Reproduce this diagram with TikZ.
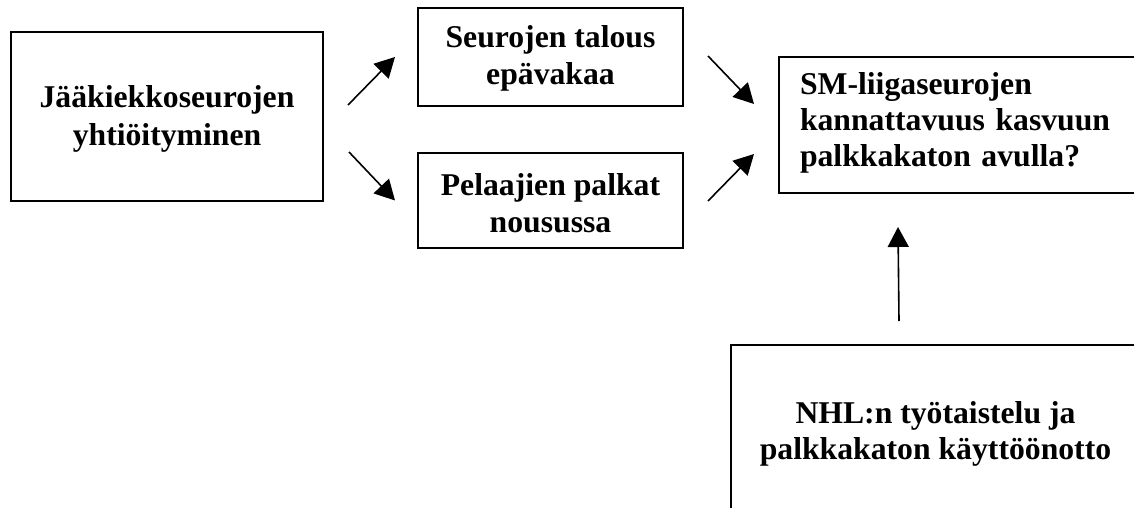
\documentclass[tikz,border=0pt]{standalone}
\usepackage{fontspec}
\setmainfont{Liberation Serif}
\usetikzlibrary{arrows.meta}
\newcommand\lnstr[2]{\rule[-#2]{0pt}{\dimexpr#1+#2\relax}}
\begin{document}
\begin{tikzpicture}[x=1pt,y=-1pt,
  box/.style={draw=black,line width=2pt,rectangle,inner sep=0pt,
    font=\fontsize{31.7}{37}\selectfont\bfseries,align=center},
  arr/.style={line width=1.6pt,-{Triangle[length=20pt,width=21pt]}}]
\useasboundingbox (0,0) rectangle (1134,508);
\clip (0,0) rectangle (1134,508);
\fill[white] (0,0) rectangle (1134,508);
\node[box,minimum width=312pt,minimum height=169pt] (b1) at (167,116.5)
  {\lnstr{27pt}{7pt}Jääkiekkoseurojen\\yhtiöityminen\lnstr{27pt}{7pt}};
\node[box,minimum width=265pt,minimum height=98pt] (b2) at (550.5,57)
  {\lnstr{26.5pt}{7.5pt}Seurojen talous\\epävakaa\lnstr{26.5pt}{7.5pt}};
\node[box,minimum width=265pt,minimum height=95pt] (b3) at (550.5,200.5)
  {\lnstr{30pt}{4pt}Pelaajien palkat\\nousussa\lnstr{30pt}{4pt}};
\node[box,font=\fontsize{31.7}{36}\selectfont\bfseries,minimum width=381pt,minimum height=136pt,inner xsep=21pt,text width=339pt,align=left] (b4) at (969.5,125)
  {\lnstr{22pt}{10pt}SM-liigaseurojen\\kannattavuus kasvuun\\palkkakaton avulla?\lnstr{22pt}{10pt}};
\node[box,font=\fontsize{31.7}{36}\selectfont\bfseries,minimum width=409pt,minimum height=175pt] (b5) at (935.5,432.5)
  {\lnstr{25pt}{8pt}NHL:n työtaistelu ja\\palkkakaton käyttöönotto\lnstr{25pt}{8pt}};
\draw[arr] ([shift={(24,-11.5)}]b1.east) -- ([shift={(-22,0)}]b2.west);
\draw[arr] ([shift={(25,35.5)}]b1.east) -- ([shift={(-22,0)}]b3.west);
\draw[arr] ([shift={(24,-1)}]b2.east) -- ([shift={(-24,-21)}]b4.west);
\draw[arr] ([shift={(24,0.5)}]b3.east) -- ([shift={(-24,29)}]b4.west);
\draw[arr] ([shift={(-36.5,-23)}]b5.north) -- ([shift={(120,33)}]b4.south west);
\end{tikzpicture}
\end{document}
